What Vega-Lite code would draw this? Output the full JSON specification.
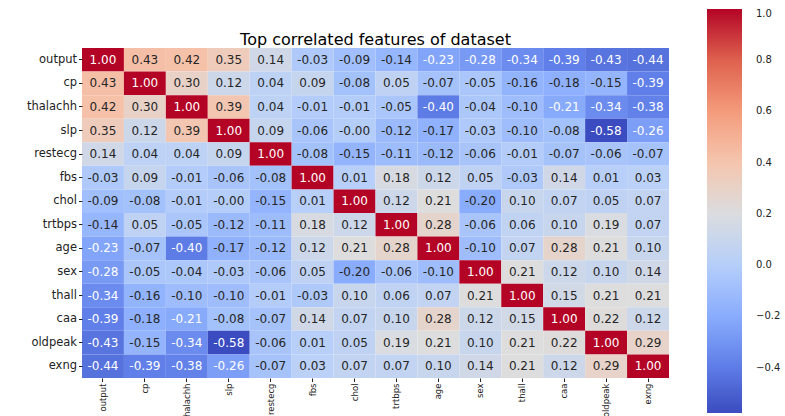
{
  "$schema": "https://vega.github.io/schema/vega-lite/v6.json",
  "width": 587,
  "height": 330,
  "autosize": {"type": "none"},
  "padding": {"left": 82, "top": 48, "right": 116, "bottom": 38},
  "background": "white",
  "title": {"text": "Top correlated features of dataset", "fontSize": 16, "font": "DejaVu Sans", "fontWeight": "normal", "color": "#000000", "anchor": "middle", "offset": -39},
  "config": {"view": {"stroke": null}, "font": "DejaVu Sans"},
  "data": {"values": [
    {"r":"output","c":"output","v":1.00},{"r":"output","c":"cp","v":0.43},{"r":"output","c":"thalachh","v":0.42},{"r":"output","c":"slp","v":0.35},{"r":"output","c":"restecg","v":0.14},{"r":"output","c":"fbs","v":-0.03},{"r":"output","c":"chol","v":-0.09},{"r":"output","c":"trtbps","v":-0.14},{"r":"output","c":"age","v":-0.23},{"r":"output","c":"sex","v":-0.28},{"r":"output","c":"thall","v":-0.34},{"r":"output","c":"caa","v":-0.39},{"r":"output","c":"oldpeak","v":-0.43},{"r":"output","c":"exng","v":-0.44},
    {"r":"cp","c":"output","v":0.43},{"r":"cp","c":"cp","v":1.00},{"r":"cp","c":"thalachh","v":0.30},{"r":"cp","c":"slp","v":0.12},{"r":"cp","c":"restecg","v":0.04},{"r":"cp","c":"fbs","v":0.09},{"r":"cp","c":"chol","v":-0.08},{"r":"cp","c":"trtbps","v":0.05},{"r":"cp","c":"age","v":-0.07},{"r":"cp","c":"sex","v":-0.05},{"r":"cp","c":"thall","v":-0.16},{"r":"cp","c":"caa","v":-0.18},{"r":"cp","c":"oldpeak","v":-0.15},{"r":"cp","c":"exng","v":-0.39},
    {"r":"thalachh","c":"output","v":0.42},{"r":"thalachh","c":"cp","v":0.30},{"r":"thalachh","c":"thalachh","v":1.00},{"r":"thalachh","c":"slp","v":0.39},{"r":"thalachh","c":"restecg","v":0.04},{"r":"thalachh","c":"fbs","v":-0.01},{"r":"thalachh","c":"chol","v":-0.01},{"r":"thalachh","c":"trtbps","v":-0.05},{"r":"thalachh","c":"age","v":-0.40},{"r":"thalachh","c":"sex","v":-0.04},{"r":"thalachh","c":"thall","v":-0.10},{"r":"thalachh","c":"caa","v":-0.21},{"r":"thalachh","c":"oldpeak","v":-0.34},{"r":"thalachh","c":"exng","v":-0.38},
    {"r":"slp","c":"output","v":0.35},{"r":"slp","c":"cp","v":0.12},{"r":"slp","c":"thalachh","v":0.39},{"r":"slp","c":"slp","v":1.00},{"r":"slp","c":"restecg","v":0.09},{"r":"slp","c":"fbs","v":-0.06},{"r":"slp","c":"chol","v":-0.004},{"r":"slp","c":"trtbps","v":-0.12},{"r":"slp","c":"age","v":-0.17},{"r":"slp","c":"sex","v":-0.03},{"r":"slp","c":"thall","v":-0.10},{"r":"slp","c":"caa","v":-0.08},{"r":"slp","c":"oldpeak","v":-0.577},{"r":"slp","c":"exng","v":-0.26},
    {"r":"restecg","c":"output","v":0.14},{"r":"restecg","c":"cp","v":0.04},{"r":"restecg","c":"thalachh","v":0.04},{"r":"restecg","c":"slp","v":0.09},{"r":"restecg","c":"restecg","v":1.00},{"r":"restecg","c":"fbs","v":-0.08},{"r":"restecg","c":"chol","v":-0.15},{"r":"restecg","c":"trtbps","v":-0.11},{"r":"restecg","c":"age","v":-0.12},{"r":"restecg","c":"sex","v":-0.06},{"r":"restecg","c":"thall","v":-0.01},{"r":"restecg","c":"caa","v":-0.07},{"r":"restecg","c":"oldpeak","v":-0.06},{"r":"restecg","c":"exng","v":-0.07},
    {"r":"fbs","c":"output","v":-0.03},{"r":"fbs","c":"cp","v":0.09},{"r":"fbs","c":"thalachh","v":-0.01},{"r":"fbs","c":"slp","v":-0.06},{"r":"fbs","c":"restecg","v":-0.08},{"r":"fbs","c":"fbs","v":1.00},{"r":"fbs","c":"chol","v":0.01},{"r":"fbs","c":"trtbps","v":0.18},{"r":"fbs","c":"age","v":0.12},{"r":"fbs","c":"sex","v":0.05},{"r":"fbs","c":"thall","v":-0.03},{"r":"fbs","c":"caa","v":0.14},{"r":"fbs","c":"oldpeak","v":0.01},{"r":"fbs","c":"exng","v":0.03},
    {"r":"chol","c":"output","v":-0.09},{"r":"chol","c":"cp","v":-0.08},{"r":"chol","c":"thalachh","v":-0.01},{"r":"chol","c":"slp","v":-0.004},{"r":"chol","c":"restecg","v":-0.15},{"r":"chol","c":"fbs","v":0.01},{"r":"chol","c":"chol","v":1.00},{"r":"chol","c":"trtbps","v":0.12},{"r":"chol","c":"age","v":0.21},{"r":"chol","c":"sex","v":-0.20},{"r":"chol","c":"thall","v":0.10},{"r":"chol","c":"caa","v":0.07},{"r":"chol","c":"oldpeak","v":0.05},{"r":"chol","c":"exng","v":0.07},
    {"r":"trtbps","c":"output","v":-0.14},{"r":"trtbps","c":"cp","v":0.05},{"r":"trtbps","c":"thalachh","v":-0.05},{"r":"trtbps","c":"slp","v":-0.12},{"r":"trtbps","c":"restecg","v":-0.11},{"r":"trtbps","c":"fbs","v":0.18},{"r":"trtbps","c":"chol","v":0.12},{"r":"trtbps","c":"trtbps","v":1.00},{"r":"trtbps","c":"age","v":0.28},{"r":"trtbps","c":"sex","v":-0.06},{"r":"trtbps","c":"thall","v":0.06},{"r":"trtbps","c":"caa","v":0.10},{"r":"trtbps","c":"oldpeak","v":0.19},{"r":"trtbps","c":"exng","v":0.07},
    {"r":"age","c":"output","v":-0.23},{"r":"age","c":"cp","v":-0.07},{"r":"age","c":"thalachh","v":-0.40},{"r":"age","c":"slp","v":-0.17},{"r":"age","c":"restecg","v":-0.12},{"r":"age","c":"fbs","v":0.12},{"r":"age","c":"chol","v":0.21},{"r":"age","c":"trtbps","v":0.28},{"r":"age","c":"age","v":1.00},{"r":"age","c":"sex","v":-0.10},{"r":"age","c":"thall","v":0.07},{"r":"age","c":"caa","v":0.28},{"r":"age","c":"oldpeak","v":0.21},{"r":"age","c":"exng","v":0.10},
    {"r":"sex","c":"output","v":-0.28},{"r":"sex","c":"cp","v":-0.05},{"r":"sex","c":"thalachh","v":-0.04},{"r":"sex","c":"slp","v":-0.03},{"r":"sex","c":"restecg","v":-0.06},{"r":"sex","c":"fbs","v":0.05},{"r":"sex","c":"chol","v":-0.20},{"r":"sex","c":"trtbps","v":-0.06},{"r":"sex","c":"age","v":-0.10},{"r":"sex","c":"sex","v":1.00},{"r":"sex","c":"thall","v":0.21},{"r":"sex","c":"caa","v":0.12},{"r":"sex","c":"oldpeak","v":0.10},{"r":"sex","c":"exng","v":0.14},
    {"r":"thall","c":"output","v":-0.34},{"r":"thall","c":"cp","v":-0.16},{"r":"thall","c":"thalachh","v":-0.10},{"r":"thall","c":"slp","v":-0.10},{"r":"thall","c":"restecg","v":-0.01},{"r":"thall","c":"fbs","v":-0.03},{"r":"thall","c":"chol","v":0.10},{"r":"thall","c":"trtbps","v":0.06},{"r":"thall","c":"age","v":0.07},{"r":"thall","c":"sex","v":0.21},{"r":"thall","c":"thall","v":1.00},{"r":"thall","c":"caa","v":0.15},{"r":"thall","c":"oldpeak","v":0.21},{"r":"thall","c":"exng","v":0.21},
    {"r":"caa","c":"output","v":-0.39},{"r":"caa","c":"cp","v":-0.18},{"r":"caa","c":"thalachh","v":-0.21},{"r":"caa","c":"slp","v":-0.08},{"r":"caa","c":"restecg","v":-0.07},{"r":"caa","c":"fbs","v":0.14},{"r":"caa","c":"chol","v":0.07},{"r":"caa","c":"trtbps","v":0.10},{"r":"caa","c":"age","v":0.28},{"r":"caa","c":"sex","v":0.12},{"r":"caa","c":"thall","v":0.15},{"r":"caa","c":"caa","v":1.00},{"r":"caa","c":"oldpeak","v":0.22},{"r":"caa","c":"exng","v":0.12},
    {"r":"oldpeak","c":"output","v":-0.43},{"r":"oldpeak","c":"cp","v":-0.15},{"r":"oldpeak","c":"thalachh","v":-0.34},{"r":"oldpeak","c":"slp","v":-0.577},{"r":"oldpeak","c":"restecg","v":-0.06},{"r":"oldpeak","c":"fbs","v":0.01},{"r":"oldpeak","c":"chol","v":0.05},{"r":"oldpeak","c":"trtbps","v":0.19},{"r":"oldpeak","c":"age","v":0.21},{"r":"oldpeak","c":"sex","v":0.10},{"r":"oldpeak","c":"thall","v":0.21},{"r":"oldpeak","c":"caa","v":0.22},{"r":"oldpeak","c":"oldpeak","v":1.00},{"r":"oldpeak","c":"exng","v":0.29},
    {"r":"exng","c":"output","v":-0.44},{"r":"exng","c":"cp","v":-0.39},{"r":"exng","c":"thalachh","v":-0.38},{"r":"exng","c":"slp","v":-0.26},{"r":"exng","c":"restecg","v":-0.07},{"r":"exng","c":"fbs","v":0.03},{"r":"exng","c":"chol","v":0.07},{"r":"exng","c":"trtbps","v":0.07},{"r":"exng","c":"age","v":0.10},{"r":"exng","c":"sex","v":0.14},{"r":"exng","c":"thall","v":0.21},{"r":"exng","c":"caa","v":0.12},{"r":"exng","c":"oldpeak","v":0.29},{"r":"exng","c":"exng","v":1.00}
  ]},
  "transform": [
    {"calculate": "(datum.v < 0 ? '-' : '') + format(abs(datum.v), '.2f')", "as": "label"}
  ],
  "encoding": {
    "x": {"field": "c", "type": "nominal", "sort": ["output","cp","thalachh","slp","restecg","fbs","chol","trtbps","age","sex","thall","caa","oldpeak","exng"],
      "scale": {"paddingInner": 0, "paddingOuter": 0},
      "axis": {"title": null, "domain": false, "labelAngle": 270, "labelFontSize": 8.5, "labelColor": "#222222", "tickColor": "#222222", "tickSize": 3.5, "labelPadding": 1.5, "labelFont": "DejaVu Sans"}},
    "y": {"field": "r", "type": "nominal", "sort": ["output","cp","thalachh","slp","restecg","fbs","chol","trtbps","age","sex","thall","caa","oldpeak","exng"],
      "scale": {"paddingInner": 0, "paddingOuter": 0},
      "axis": {"title": null, "domain": false, "labelFontSize": 11.5, "labelColor": "#222222", "tickColor": "#222222", "tickSize": 3.5, "labelPadding": 2, "labelFont": "DejaVu Sans"}}
  },
  "layer": [
    {"mark": {"type": "rect"},
     "encoding": {
       "color": {"field": "v", "type": "quantitative",
         "scale": {"type": "linear", "domain": [-0.577, -0.379875, -0.18275, 0.014375, 0.2115, 0.408625, 0.60575, 0.802875, 1.0],
           "range": ["#3b4cc0", "#6282ea", "#8db0fe", "#b8d0f9", "#dddddd", "#f5c4ac", "#f49a7b", "#de604d", "#b40426"], "interpolate": "rgb"},
         "legend": {"title": null, "orient": "none", "legendX": 625, "legendY": -39, "direction": "vertical", "gradientLength": 404, "gradientThickness": 35, "gradientStrokeWidth": 0, "values": [-0.4, -0.2, 0, 0.2, 0.4, 0.6, 0.8, 1.0], "format": ".1f", "labelFontSize": 10, "labelColor": "#222222", "labelOffset": 14, "padding": 0, "labelFont": "DejaVu Sans"}}
     }},
    {"mark": {"type": "text", "fontSize": 12, "font": "DejaVu Sans"},
     "encoding": {
       "text": {"field": "label", "type": "nominal"},
       "color": {"condition": {"test": "datum.v < -0.205 || datum.v > 0.99", "value": "#ffffff"}, "value": "#262626"}
     }}
  ]
}
